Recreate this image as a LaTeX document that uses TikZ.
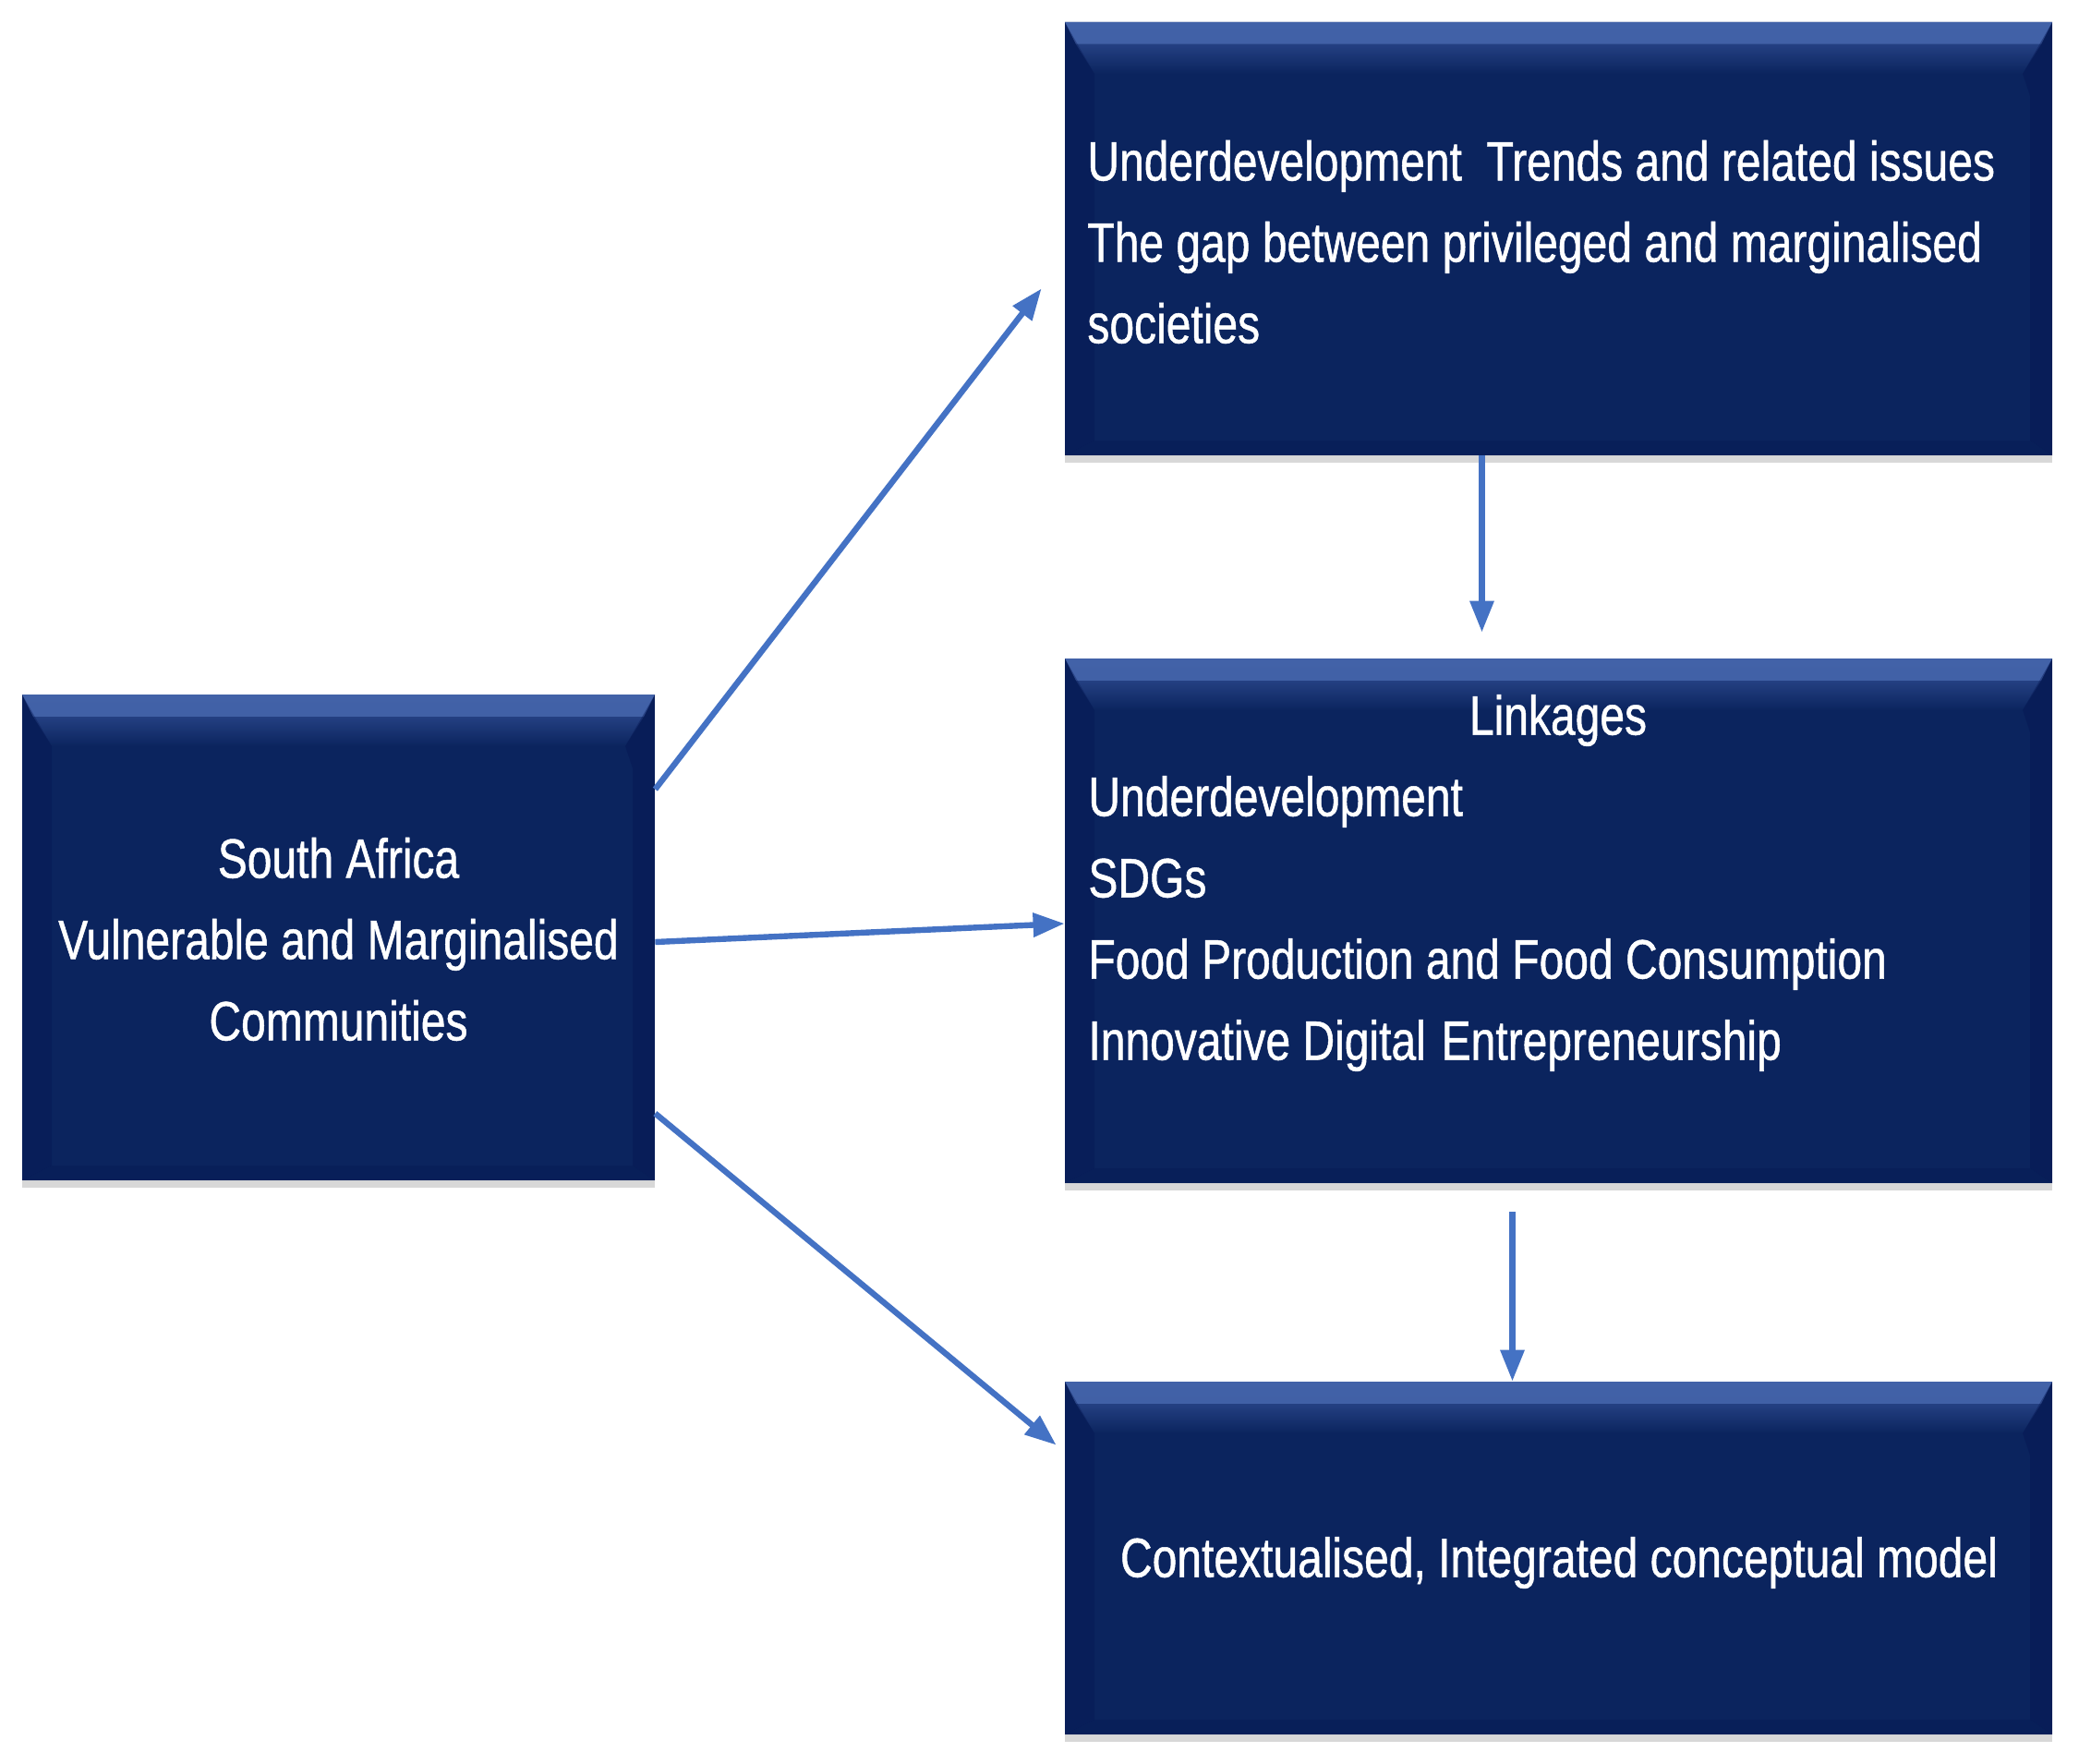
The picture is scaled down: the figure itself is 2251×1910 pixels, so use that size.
\documentclass[tikz,border=0pt]{standalone}
\usepackage{fontspec}
\newfontfamily\boxfont[FakeStretch=0.8,FakeBold=0.8]{Liberation Sans}
\usetikzlibrary{arrows.meta,shadows,calc}
\definecolor{boxnavy}{RGB}{11,36,94}
\definecolor{boxbevel}{RGB}{66,98,168}
\definecolor{boxmid}{RGB}{36,64,130}
\definecolor{boxdark}{RGB}{4,20,80}
\definecolor{arrowblue}{RGB}{68,114,196}
\tikzset{
  bluebox/.style={rectangle, fill=boxnavy, inner sep=0pt, draw=none,
    drop shadow={shadow xshift=0pt, shadow yshift=-4pt, opacity=0.25, fill=black!60},
    path picture={
      \fill[top color=boxbevel, bottom color=boxmid]
        (path picture bounding box.north west) -- (path picture bounding box.north east)
        -- ([xshift=-6pt,yshift=-12pt]path picture bounding box.north east)
        -- ([xshift=6pt,yshift=-12pt]path picture bounding box.north west) -- cycle;
      \fill[top color=boxmid, bottom color=boxnavy]
        ([xshift=6pt,yshift=-12pt]path picture bounding box.north west)
        -- ([xshift=-6pt,yshift=-12pt]path picture bounding box.north east)
        -- ([xshift=-16pt,yshift=-28pt]path picture bounding box.north east)
        -- ([xshift=16pt,yshift=-28pt]path picture bounding box.north west) -- cycle;
      \fill[boxdark, opacity=0.35]
        (path picture bounding box.north west)
        -- ([xshift=16pt,yshift=-28pt]path picture bounding box.north west)
        -- ([xshift=16pt,yshift=8pt]path picture bounding box.south west)
        -- (path picture bounding box.south west) -- cycle;
      \fill[boxdark, opacity=0.3]
        (path picture bounding box.south west) -- (path picture bounding box.south east)
        -- ([xshift=-12pt,yshift=8pt]path picture bounding box.south east)
        -- ([xshift=16pt,yshift=8pt]path picture bounding box.south west) -- cycle;
      \fill[boxdark, opacity=0.4]
        (path picture bounding box.north east)
        -- ([xshift=-16pt,yshift=-28pt]path picture bounding box.north east)
        -- ([xshift=-12pt,yshift=-40pt]path picture bounding box.north east)
        -- ([xshift=-12pt,yshift=8pt]path picture bounding box.south east)
        -- (path picture bounding box.south east) -- cycle;
    }},
  boxtext/.style={text=white, font=\boxfont\fontsize{30pt}{44pt}\selectfont, inner sep=0pt},
  flow/.style={draw=arrowblue, line width=3.2pt, -{Triangle[length=17pt,width=12.5pt]}}
}
\begin{document}
\begin{tikzpicture}[x=0.5pt,y=-0.5pt]
\useasboundingbox[fill=white] (0,0) rectangle (2251,1910);

\node[bluebox, minimum width=534.5pt, minimum height=234.5pt] (top) at (1687.5,258.5) {};
\node[bluebox, minimum width=534.5pt, minimum height=284pt] (mid) at (1687.5,997) {};
\node[bluebox, minimum width=534.5pt, minimum height=191pt] (bot) at (1687.5,1687) {};
\node[bluebox, minimum width=342.5pt, minimum height=263pt] (left) at (366.5,1015) {};

\node[boxtext, align=left, anchor=west] (toptext) at (1177,262)
  {Underdevelopment\ \ Trends and related issues\\The gap between privileged and marginalised\\societies};
\node[boxtext] (midhead) at (1687,780) {Linkages};
\node[boxtext, align=left, anchor=west] (midtext) at (1178,1000)
  {Underdevelopment\\SDGs\\Food Production and Food Consumption\\Innovative Digital\hspace{0.28em}Entrepreneurship};
\node[boxtext] (bottext) at (1688,1692) {Contextualised, Integrated conceptual model};
\node[boxtext, align=center] (lefttext) at (366.5,1017)
  {South Africa\\Vulnerable and Marginalised\\Communities};

\draw[flow] ($(left.north east)+(0,103)$) -- ($(top.west)+(-25,54)$);
\draw[flow] ($(left.east)+(0,5)$) -- ($(mid.west)+(0,3)$);
\draw[flow] ($(left.north east)+(0,454)$) -- ($(bot.north west)+(-9,69)$);
\draw[flow] ($(top.south)+(-83,0)$) -- ($(mid.north)+(-83,-28)$);
\draw[flow] ($(mid.south)+(-50,31)$) -- ($(bot.north)+(-50,0)$);
\end{tikzpicture}
\end{document}
